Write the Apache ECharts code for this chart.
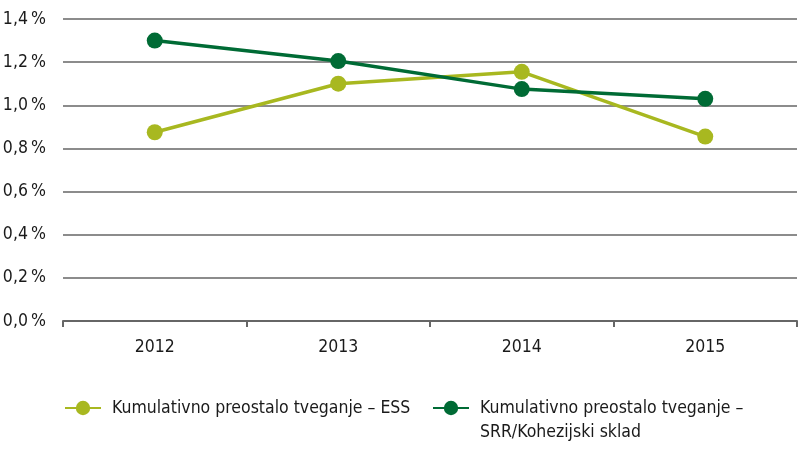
<!DOCTYPE html>
<html><head><meta charset="utf-8">
<script src="https://cdn.jsdelivr.net/npm/echarts@6/dist/echarts.min.js"></script>
<style>html,body{margin:0;padding:0;background:#fff}#c{width:800px;height:451px}</style>
</head><body><div id="c"></div>
<script>
const categories = ['2012', '2013', '2014', '2015'];
const essValues = [0.875, 1.10, 1.155, 0.855];
const srrValues = [1.30, 1.205, 1.075, 1.03];
const seriesNames = ['Kumulativno preostalo tveganje – ESS', 'Kumulativno preostalo tveganje –\nSRR/Kohezijski sklad'];
const yTicks = [0, 0.2, 0.4, 0.6, 0.8, 1.0, 1.2, 1.4];

const FONT = '"DejaVu Sans Condensed", "Liberation Sans Narrow", sans-serif';
const GRID = '#666666';
const chart = echarts.init(document.getElementById('c'), null, {renderer: 'canvas'});
chart.setOption({
  animation: false,
  textStyle: {fontFamily: FONT},
  grid: {left: 63, right: 3, top: 19, bottom: 130, containLabel: false, outerBoundsMode: 'none'},
  xAxis: {
    type: 'category', data: categories, boundaryGap: true,
    axisLine: {lineStyle: {color: GRID, width: 2}},
    axisTick: {show: true, length: 6, lineStyle: {color: GRID, width: 2}},
    axisLabel: {color: '#1a1a1a', fontSize: 17.5, fontFamily: FONT, margin: 17}
  },
  yAxis: {
    type: 'value', min: yTicks[0], max: yTicks[yTicks.length - 1], interval: 0.2,
    axisLine: {show: false}, axisTick: {show: false},
    splitLine: {lineStyle: {color: GRID, width: 1.5}},
    axisLabel: {color: '#1a1a1a', fontSize: 17.5, fontFamily: FONT, margin: 17,
      formatter: v => v.toFixed(1).replace('.', ',') + '\u2009%'}
  },
  legend: [
    {data: [seriesNames[0]], left: 64, top: 399, itemWidth: 36, itemHeight: 18, itemGap: 10, padding: 0,
     textStyle: {fontSize: 17.5, color: '#1a1a1a', fontFamily: FONT, padding: [0, 0, 0, 6]}},
    {data: [{name: seriesNames[1]}], left: 432, top: 372, itemWidth: 36, itemHeight: 18, padding: 0,
     formatter: n => '\n' + n,
     textStyle: {fontSize: 17.5, color: '#1a1a1a', fontFamily: FONT, lineHeight: 24, padding: [0, 0, 0, 6]}}
  ],
  series: [
    {name: seriesNames[0], type: 'line', data: essValues, symbol: 'circle', symbolSize: 16,
     lineStyle: {color: '#a8b820', width: 3.5}, itemStyle: {color: '#a8b820'}},
    {name: seriesNames[1], type: 'line', data: srrValues, symbol: 'circle', symbolSize: 16,
     lineStyle: {color: '#006b35', width: 3.5}, itemStyle: {color: '#006b35'}}
  ]
});
</script></body></html>
